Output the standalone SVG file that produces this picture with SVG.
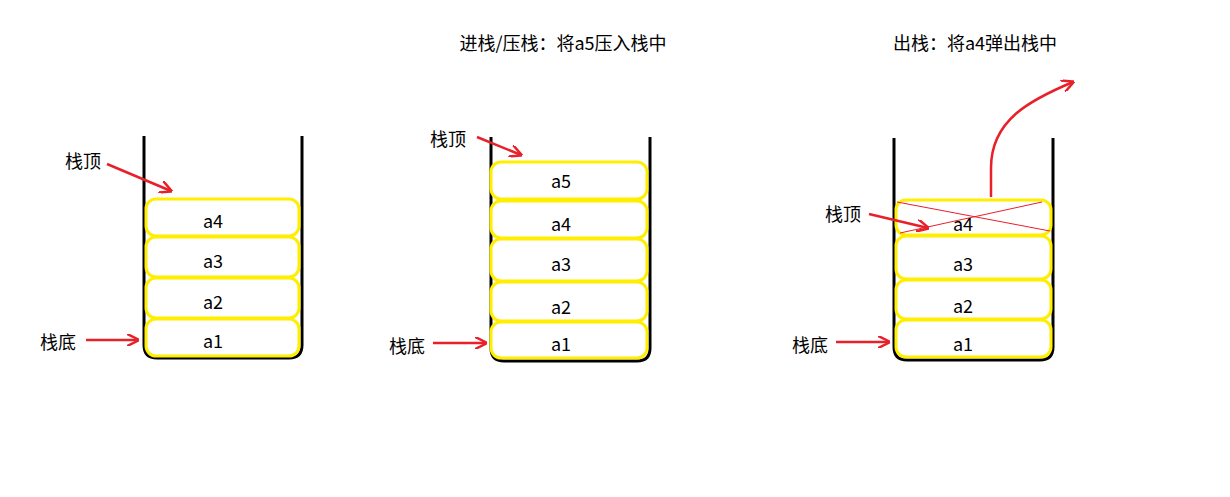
<svg xmlns="http://www.w3.org/2000/svg" width="1230" height="497" viewBox="0 0 1230 497">
<style>
.wall{fill:none;stroke:#000;stroke-width:3}
.blk{fill:#fff;stroke:#ffee00;stroke-width:3}
.t{font-family:"Microsoft YaHei","Noto Sans CJK SC",sans-serif;font-size:18px;fill:#000}
.c{text-anchor:middle}
.ar{fill:none;stroke:#e8202a;stroke-width:2.5}
.x{stroke:#e8202a;stroke-width:1}
</style>
<defs><marker id="h" viewBox="0 0 10 10" refX="9" refY="5" markerWidth="5" markerHeight="5" orient="auto"><path d="M0,0L10,5L0,10" fill="none" stroke="#e8202a" stroke-width="2"/></marker></defs>
<rect width="1230" height="497" fill="#fff"/>
<text class="t c" x="563" y="50">进栈/压栈：将a5压入栈中</text>
<text class="t c" x="975" y="50">出栈：将a4弹出栈中</text>
<g id="stack1">
<path class="wall" d="M144,136V345q0,13 13,13H289q13,0 13-13V136"/>
<rect class="blk" x="146" y="199" width="153" height="37" rx="10"/>
<rect class="blk" x="146" y="237" width="153" height="40" rx="10"/>
<rect class="blk" x="146" y="278" width="153" height="40" rx="10"/>
<rect class="blk" x="146" y="319" width="153" height="37" rx="10"/>
<text class="t c" x="213" y="228">a4</text><text class="t c" x="213" y="268">a3</text><text class="t c" x="213" y="309">a2</text><text class="t c" x="213" y="348">a1</text>
<text class="t" x="65" y="168">栈顶</text><text class="t" x="40" y="349">栈底</text>
</g>
<g id="stack2">
<path class="wall" d="M491,137V348q0,13 13,13H637q13,0 13-13V137"/>
<rect class="blk" x="491" y="162" width="156" height="37" rx="10"/>
<rect class="blk" x="491" y="201" width="156" height="37" rx="10"/>
<rect class="blk" x="491" y="239" width="156" height="42" rx="10"/>
<rect class="blk" x="491" y="282" width="156" height="39" rx="10"/>
<rect class="blk" x="491" y="322" width="156" height="36" rx="10"/>
<text class="t c" x="561" y="188">a5</text><text class="t c" x="561" y="231">a4</text><text class="t c" x="561" y="271">a3</text><text class="t c" x="561" y="314">a2</text><text class="t c" x="561" y="351">a1</text>
<text class="t" x="430" y="146">栈顶</text><text class="t" x="389" y="353">栈底</text>
</g>
<g id="stack3">
<path class="wall" d="M894,138V347q0,13 13,13H1040q13,0 13-13V138"/>
<rect class="blk" x="896" y="200" width="155" height="35" rx="10"/>
<rect class="blk" x="896" y="236" width="155" height="43" rx="10"/>
<rect class="blk" x="896" y="280" width="155" height="39" rx="10"/>
<rect class="blk" x="896" y="320" width="155" height="37" rx="10"/>
<line class="x" x1="897" y1="202" x2="1050" y2="231"/><line class="x" x1="900" y1="233" x2="1042" y2="202"/>
<text class="t c" x="963" y="231">a4</text><text class="t c" x="963" y="271">a3</text><text class="t c" x="963" y="313">a2</text><text class="t c" x="963" y="351">a1</text>
<text class="t" x="825" y="221">栈顶</text><text class="t" x="792" y="352">栈底</text>
</g>
<g id="connectors">
<line class="ar" x1="107" y1="164" x2="171" y2="191" marker-end="url(#h)"/>
<line class="ar" x1="86" y1="340" x2="138" y2="340" marker-end="url(#h)"/>
<line class="ar" x1="477" y1="137" x2="521" y2="155" marker-end="url(#h)"/>
<line class="ar" x1="433" y1="343" x2="486" y2="343" marker-end="url(#h)"/>
<line class="ar" x1="869" y1="214" x2="928" y2="228" marker-end="url(#h)"/>
<line class="ar" x1="836" y1="342" x2="889" y2="342" marker-end="url(#h)"/>
<path class="ar" d="M991,197V168C991,120 1030,100 1073,82" marker-end="url(#h)"/>
</g>
</svg>
